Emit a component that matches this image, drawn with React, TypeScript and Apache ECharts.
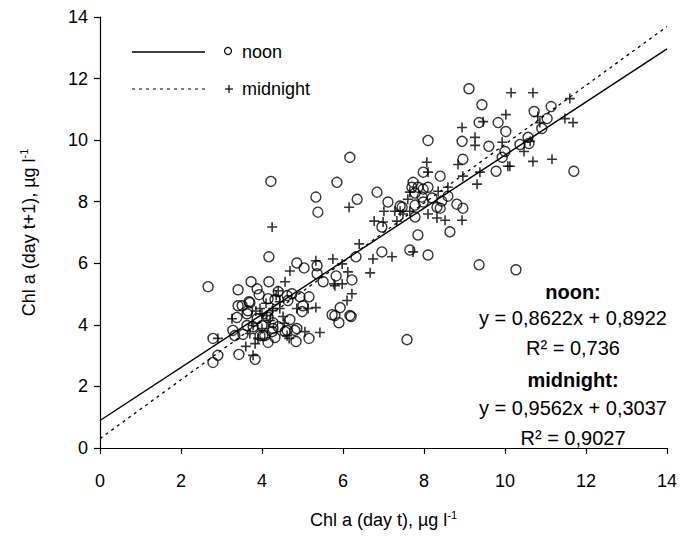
import React, { useEffect, useRef } from "react";
import * as echarts from "echarts";

const FONT = "'Liberation Sans', Arial, Helvetica, sans-serif";

const xTicks = [0, 2, 4, 6, 8, 10, 12, 14];
const yTicks = [0, 2, 4, 6, 8, 10, 12, 14];

// noon observations (circles): [Chl a day t, Chl a day t+1]
const noonPoints: number[][] = [
  [2.67, 5.24], [2.79, 3.56], [2.91, 3.01], [2.79, 2.78], [3.41, 5.14], [3.73, 5.4], [4.17, 5.4],
  [3.88, 5.17], [3.93, 4.98], [3.41, 4.62], [3.51, 4.62], [3.68, 4.75], [3.63, 4.36], [3.43, 3.04],
  [3.83, 2.88], [4.15, 3.43], [3.33, 3.65], [3.53, 3.69], [3.28, 3.82], [4.02, 3.65], [4.27, 3.88],
  [4.4, 5.08], [4.62, 4.95], [4.17, 6.21], [4.86, 6.01], [5.04, 5.85], [5.36, 5.92], [5.36, 5.66],
  [5.51, 5.4], [5.83, 5.59], [6.22, 5.46], [4.74, 5.01], [4.94, 4.91], [5.16, 4.91], [3.7, 4.72],
  [4.15, 4.85], [4.32, 4.82], [4.64, 4.79], [5.01, 4.62], [4.99, 4.43], [5.93, 4.56], [5.73, 4.33],
  [5.8, 4.3], [5.9, 4.07], [6.2, 4.27], [4.69, 4.17], [3.65, 4.46], [3.38, 4.24], [3.88, 4.2],
  [4.15, 4.24], [4.27, 4.07], [3.63, 3.98], [3.78, 3.94], [4.0, 3.98], [4.4, 3.94], [4.62, 3.82],
  [4.86, 3.88], [4.25, 3.78], [3.95, 3.65], [4.07, 3.65], [4.32, 3.59], [4.84, 3.46], [5.16, 3.56],
  [4.57, 3.78], [7.58, 3.52], [6.17, 9.44], [4.22, 8.66], [5.85, 8.63], [5.33, 8.15], [5.38, 7.66],
  [6.35, 8.08], [6.84, 8.31], [7.11, 7.99], [7.41, 7.86], [6.96, 7.18], [6.96, 6.37], [7.65, 6.43],
  [6.32, 6.21], [4.81, 3.82], [6.17, 4.3], [9.36, 10.57], [9.83, 10.57], [10.02, 10.28], [8.1, 9.99],
  [8.94, 9.96], [9.6, 9.8], [10.0, 9.63], [8.96, 9.38], [9.78, 8.99], [7.98, 8.96], [8.4, 8.83],
  [7.73, 8.63], [7.7, 8.47], [7.85, 8.47], [7.98, 8.41], [8.1, 8.47], [7.78, 8.28], [7.95, 8.15],
  [8.2, 8.12], [8.59, 8.18], [8.44, 8.02], [7.78, 7.89], [7.98, 7.99], [8.81, 7.92], [8.96, 7.79],
  [8.32, 7.82], [8.4, 7.79], [7.78, 7.5], [7.46, 7.82], [8.64, 7.02], [7.85, 6.92], [8.1, 6.27],
  [9.36, 5.95], [10.27, 5.79], [11.14, 11.09], [10.72, 10.93], [11.04, 10.7], [10.91, 10.38],
  [10.57, 10.09], [10.37, 9.86], [10.59, 9.89], [11.7, 8.99], [9.93, 9.44], [9.43, 11.15], [9.11, 11.67]
];

// midnight observations (crosses)
const midnightPoints: number[][] = [
  [4.25, 7.18], [6.4, 6.63], [6.74, 6.14], [6.67, 5.69], [5.75, 6.14], [5.98, 5.98], [6.12, 5.72],
  [5.78, 5.33], [5.98, 5.33], [6.22, 5.01], [6.1, 4.79], [4.69, 5.75], [5.33, 6.08], [4.57, 5.4],
  [4.4, 5.11], [4.44, 4.53], [4.52, 4.27], [4.86, 4.53], [5.33, 4.56], [5.14, 4.53], [3.26, 4.2],
  [5.43, 3.75], [5.06, 3.78], [4.67, 3.56], [3.83, 3.39], [3.6, 3.3], [3.78, 3.01], [2.91, 3.56],
  [3.95, 4.53], [4.0, 4.36], [4.25, 4.46], [6.15, 7.82], [7.01, 7.69], [6.77, 7.37], [7.28, 7.69],
  [7.33, 7.37], [7.48, 7.6], [7.21, 6.21], [5.8, 5.27], [8.94, 10.41], [9.26, 10.09], [9.26, 9.83],
  [9.93, 9.93], [8.07, 9.28], [8.1, 8.96], [8.84, 9.21], [8.96, 8.83], [9.38, 8.96], [9.31, 8.57],
  [10.07, 9.15], [8.59, 8.47], [8.35, 8.34], [7.65, 8.31], [7.6, 8.08], [8.1, 7.6], [8.32, 7.47],
  [8.52, 7.4], [8.94, 7.4], [7.73, 6.37], [7.41, 7.69], [10.15, 11.54], [10.69, 11.54], [11.6, 11.35],
  [10.02, 10.83], [10.81, 10.77], [10.86, 10.57], [11.48, 10.7], [11.68, 10.57], [10.47, 9.63],
  [10.69, 9.31], [11.16, 9.38], [10.12, 9.15], [10.62, 9.96], [9.46, 10.6], [6.99, 7.34], [7.65, 7.69],
  [3.78, 3.98], [4.0, 3.88], [4.12, 4.3], [4.27, 4.53], [4.44, 4.75], [3.7, 3.72], [3.9, 3.56],
  [4.62, 3.65], [4.2, 4.14], [4.1, 4.7], [4.35, 4.95], [3.85, 4.45], [4.55, 4.05]
];

// fitted regression lines (end points)
const noonFit: number[][] = [[0, 0.892], [14, 12.963]];
const midnightFit: number[][] = [[0, 0.304], [14, 13.691]];

const legendLabels = ["noon", "midnight"];
const annotationLines = [
  { text: "noon:", bold: true },
  { text: "y = 0,8622x + 0,8922", bold: false },
  { text: "R² = 0,736", bold: false },
  { text: "midnight:", bold: true },
  { text: "y = 0,9562x + 0,3037", bold: false },
  { text: "R² = 0,9027", bold: false }
];
const annotationY = [292, 318, 348, 380, 408, 438];

export default function App() {
  const ref = useRef<HTMLDivElement>(null);
  useEffect(() => {
    if (!ref.current) return;
    const chart = echarts.init(ref.current, null, { renderer: "svg" });
    const axisCommon = {
      type: "value" as const,
      min: 0,
      max: 14,
      interval: 2,
      axisLine: { show: true, onZero: false, lineStyle: { color: "#000", width: 1.2 } },
      axisTick: { show: true, inside: false, length: 6, lineStyle: { color: "#000", width: 1.2 } },
      splitLine: { show: false },
      nameLocation: "middle" as const,
      nameTextStyle: {
        color: "#000",
        fontFamily: FONT,
        fontSize: 18,
        rich: {
          a: { fontFamily: FONT, fontSize: 18, color: "#000", lineHeight: 22 },
          sup: { fontFamily: FONT, fontSize: 11, color: "#000", lineHeight: 22, verticalAlign: "top", padding: [0, 0, 11, 0] }
        }
      }
    };
    const graphics: any[] = [];
    // legend
    graphics.push({ type: "line", shape: { x1: 132, y1: 52, x2: 205, y2: 52 }, style: { stroke: "#000", lineWidth: 1.3 } });
    graphics.push({ type: "circle", shape: { cx: 228, cy: 51, r: 3.5 }, style: { stroke: "#000", fill: "none", lineWidth: 1.2 } });
    graphics.push({ type: "text", x: 242, y: 52, style: { text: legendLabels[0], font: `18px ${FONT}`, fill: "#000", verticalAlign: "middle", align: "left" } });
    graphics.push({ type: "line", shape: { x1: 132, y1: 89, x2: 205, y2: 89 }, style: { stroke: "#000", lineWidth: 1.2, lineDash: [3, 4] } });
    graphics.push({ type: "line", shape: { x1: 225, y1: 89, x2: 233, y2: 89 }, style: { stroke: "#000", lineWidth: 1.2 } });
    graphics.push({ type: "line", shape: { x1: 229, y1: 85, x2: 229, y2: 93 }, style: { stroke: "#000", lineWidth: 1.2 } });
    graphics.push({ type: "text", x: 242, y: 89, style: { text: legendLabels[1], font: `18px ${FONT}`, fill: "#000", verticalAlign: "middle", align: "left" } });
    annotationLines.forEach((l, i) => {
      graphics.push({
        type: "text",
        x: 573,
        y: annotationY[i],
        style: {
          text: l.text,
          font: `${l.bold ? "bold " : ""}20px ${FONT}`,
          fill: "#000",
          align: "center",
          verticalAlign: "middle"
        }
      });
    });

    chart.setOption({
      animation: false,
      backgroundColor: "#fff",
      grid: { left: 100, right: 24, top: 17, bottom: 86, containLabel: false },
      xAxis: {
        ...axisCommon,
        name: "{a|Chl a (day t), µg l}{sup|-1}",
        nameGap: 61,
        axisLabel: { color: "#000", fontFamily: FONT, fontSize: 18, margin: 24, formatter: (v: number) => (xTicks.includes(v) ? String(v) : "") }
      },
      yAxis: {
        ...axisCommon,
        name: "{a|Chl a (day t+1), µg l}{sup|-1}",
        nameGap: 60,
        axisLabel: { color: "#000", fontFamily: FONT, fontSize: 18, margin: 12, formatter: (v: number) => (yTicks.includes(v) ? String(v) : "") }
      },
      series: [
        {
          type: "line",
          data: noonFit,
          showSymbol: false,
          symbol: "none",
          lineStyle: { color: "#000", width: 1.4 },
          silent: true,
          z: 3
        },
        {
          type: "line",
          data: midnightFit,
          showSymbol: false,
          symbol: "none",
          lineStyle: { color: "#000", width: 1.3, type: [3, 4] },
          silent: true,
          z: 3
        },
        {
          type: "scatter",
          name: "noon",
          data: noonPoints,
          symbol: "circle",
          symbolSize: 10,
          itemStyle: { color: "rgba(0,0,0,0)", borderColor: "#000", borderWidth: 1.4 },
          z: 4
        },
        {
          type: "scatter",
          name: "midnight",
          data: midnightPoints,
          symbol: "path://M0,5L10,5M5,0L5,10",
          symbolSize: 10,
          itemStyle: { color: "rgba(0,0,0,0)", borderColor: "#000", borderWidth: 1.6 },
          z: 4
        }
      ],
      graphic: graphics
    });
    return () => chart.dispose();
  }, []);
  return <div ref={ref} style={{ width: 691, height: 536, position: "absolute", left: 0, top: 0 }} />;
}
